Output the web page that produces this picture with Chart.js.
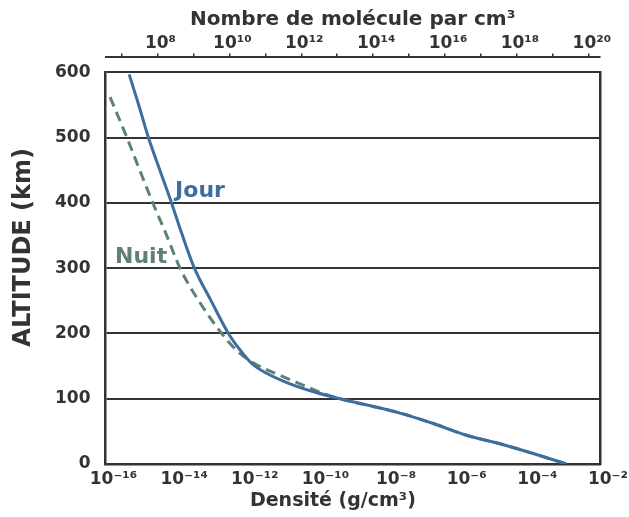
<!DOCTYPE html>
<html>
<head>
<meta charset="utf-8">
<script src="https://cdn.jsdelivr.net/npm/chart.js@4.4.1/dist/chart.umd.min.js"></script>
<style>
  html, body { margin: 0; padding: 0; background: #ffffff; }
  #wrap { width: 629px; height: 517px; position: relative; }
</style>
</head>
<body>
<div id="wrap"><canvas id="c"></canvas></div>
<script>
// ---- data ----
const jourAltitude = [597, 552, 501, 450, 400, 353, 301, 251, 200, 174, 154, 139, 124, 111, 100, 78, 62, 44, 31, 16, 0];
const jourLogDensity = [-15.33, -15.07, -14.79, -14.46, -14.13, -13.84, -13.49, -13.02, -12.52, -12.18, -11.86, -11.44, -10.83, -10.13, -9.36, -7.66, -6.72, -5.78, -4.83, -3.89, -2.95];

const nuitAltitude = [562, 501, 450, 400, 353, 300, 251, 200, 174, 152, 136, 121, 108, 100, 78, 62, 44, 31, 16, 0];
const nuitLogDensity = [-15.87, -15.40, -15.03, -14.66, -14.29, -13.89, -13.37, -12.71, -12.29, -11.72, -11.06, -10.41, -9.84, -9.36, -7.66, -6.72, -5.78, -4.83, -3.89, -2.95];

const densityTickExponents = [-16, -14, -12, -10, -8, -6, -4, -2];
const moleculeTickExponents = [7, 8, 9, 10, 11, 12, 13, 14, 15, 16, 17, 18, 19, 20];
const altitudeTicks = [0, 100, 200, 300, 400, 500, 600];

const seriesNames = ['Jour', 'Nuit'];
const seriesLabelAnchors = [
  { logDensity: -14.03, altitude: 409 },
  { logDensity: -15.73, altitude: 308 }
];

// ---- helpers ----
const SUP = { '0': '⁰', '1': '¹', '2': '²', '3': '³', '4': '⁴', '5': '⁵', '6': '⁶', '7': '⁷', '8': '⁸', '9': '⁹', '-': '⁻' };
function pow10Label(e) {
  return '10' + String(e).split('').map(ch => SUP[ch]).join('');
}
function toPoints(logs, alts) {
  return logs.map((l, i) => ({ x: Math.pow(10, l), y: alts[i] }));
}

const JOUR_COLOR = '#3d6e9e';
const NUIT_COLOR = '#5f7f79';
const INK = '#333333';

Chart.defaults.font.family = "'DejaVu Sans', 'Liberation Sans', sans-serif";
Chart.defaults.font.weight = 'bold';
Chart.defaults.color = INK;

const seriesLabels = {
  id: 'seriesLabels',
  afterDatasetsDraw(chart) {
    const { ctx, scales } = chart;
    const colors = [JOUR_COLOR, NUIT_COLOR];
    ctx.save();
    ctx.font = "bold 22px 'DejaVu Sans', sans-serif";
    ctx.textBaseline = 'alphabetic';
    ctx.textAlign = 'left';
    seriesNames.forEach((name, i) => {
      const a = seriesLabelAnchors[i];
      ctx.fillStyle = colors[i];
      ctx.fillText(name,
        scales.x.getPixelForValue(Math.pow(10, a.logDensity)),
        scales.y.getPixelForValue(a.altitude));
    });
    ctx.restore();
  }
};

new Chart(document.getElementById('c'), {
  type: 'line',
  data: {
    datasets: [
      {
        label: seriesNames[0],
        data: toPoints(jourLogDensity, jourAltitude),
        borderColor: JOUR_COLOR,
        borderWidth: 3,
        pointRadius: 0,
        cubicInterpolationMode: 'monotone',
        fill: false,
        order: 0,
        xAxisID: 'x',
        yAxisID: 'y'
      },
      {
        label: seriesNames[1],
        data: toPoints(nuitLogDensity, nuitAltitude),
        borderColor: NUIT_COLOR,
        borderWidth: 3,
        borderDash: [10, 6],
        pointRadius: 0,
        cubicInterpolationMode: 'monotone',
        fill: false,
        order: 1,
        xAxisID: 'x',
        yAxisID: 'y'
      }
    ]
  },
  options: {
    responsive: true,
    maintainAspectRatio: false,
    animation: false,
    layout: { padding: { top: 8, left: 9, right: 29, bottom: 5 } },
    plugins: {
      legend: { display: false },
      tooltip: { enabled: false }
    },
    scales: {
      x: {
        type: 'logarithmic',
        position: 'bottom',
        min: 1e-16,
        max: 1e-2,
        afterBuildTicks: s => { s.ticks = densityTickExponents.map(e => ({ value: Math.pow(10, e) })); },
        afterFit: s => { s.height = 48; },
        ticks: {
          callback: v => pow10Label(Math.round(Math.log10(v))),
          font: { size: 17, weight: 'bold' },
          color: INK,
          padding: 5,
          labelOffset: 8,
          maxRotation: 0,
          autoSkip: false
        },
        grid: { display: false, drawTicks: false },
        border: { display: true, color: INK, width: 2.5 },
        title: {
          display: true,
          text: 'Densité (g/cm³)      ',
          font: { size: 19, weight: 'bold' },
          color: INK,
          padding: { top: 0, bottom: 0 }
        }
      },
      xTop: {
        type: 'logarithmic',
        position: 'top',
        weight: 1,
        min: Math.pow(10, 6.555),
        max: Math.pow(10, 20.31),
        afterBuildTicks: s => { s.ticks = moleculeTickExponents.map(e => ({ value: Math.pow(10, e) })); },
        ticks: {
          callback: v => { const e = Math.round(Math.log10(v)); return e % 2 === 0 ? pow10Label(e) : ''; },
          font: { size: 17, weight: 'bold' },
          color: INK,
          padding: 0,
          labelOffset: 3,
          maxRotation: 0,
          autoSkip: false
        },
        grid: { display: true, drawOnChartArea: false, drawTicks: true, tickLength: 4, color: INK, lineWidth: 1.5 },
        border: { display: true, color: INK, width: 2 },
        title: {
          display: true,
          text: 'Nombre de molécule par cm³',
          font: { size: 20, weight: 'bold' },
          color: INK,
          padding: { top: 0, bottom: 1 }
        }
      },
      xGap: {
        type: 'linear',
        position: 'top',
        weight: 0,
        ticks: { display: false },
        grid: { display: false },
        border: { display: false },
        afterFit: s => { s.height = 15; }
      },
      y: {
        type: 'linear',
        position: 'left',
        min: 0,
        max: 600,
        afterBuildTicks: s => { s.ticks = altitudeTicks.map(v => ({ value: v })); },
        afterFit: s => { s.width = 96.5; },
        ticks: {
          font: { size: 17, weight: 'bold' },
          color: INK,
          padding: 15
        },
        grid: { display: true, drawTicks: false, color: INK, lineWidth: 2 },
        border: { display: true, color: INK, width: 2.5 },
        title: {
          display: true,
          text: '     ALTITUDE (km)',
          font: { size: 24, weight: 'bold' },
          color: INK,
          padding: { top: 0, bottom: 17 }
        }
      },
      yRight: {
        type: 'linear',
        position: 'right',
        ticks: { display: false },
        grid: { display: false },
        border: { display: true, color: INK, width: 2.5 },
        afterFit: s => { s.width = 0; }
      }
    }
  },
  plugins: [seriesLabels]
});
</script>
</body>
</html>
